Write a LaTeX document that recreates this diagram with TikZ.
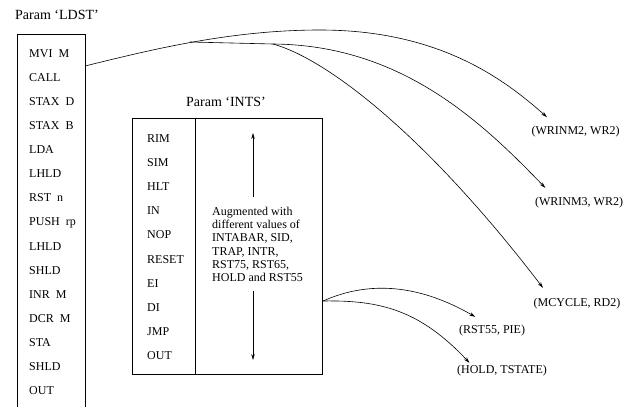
\documentclass[tikz,border=0pt]{standalone}
\usepackage{fontspec}
\setmainfont{Liberation Serif}
\usepackage{tikz}
\usetikzlibrary{arrows.meta,positioning,calc}
\tikzset{
  item/.style={anchor=base west,inner sep=0pt,font=\fontsize{12}{13}\selectfont},
  title/.style={anchor=base,inner sep=0pt,font=\fontsize{14}{16}\selectfont},
  pair/.style={inner sep=0pt,font=\fontsize{12}{13}\selectfont},
  note/.style={anchor=north west,inner sep=0pt,align=left,font=\fontsize{12}{13.2}\selectfont},
  listbox/.style={draw,line width=0.9pt,inner sep=0pt},
  wire/.style={line width=0.6pt},
  arrow/.style={-{Stealth[length=6pt,width=3.5pt]},line width=0.6pt}
}
\begin{document}
\begin{tikzpicture}[x=1pt,y=-1pt]
  \useasboundingbox (0,0) rectangle (626,407);
  % LDST list, open at the bottom
  \node[title] (ldsttitle) at (57,19.5) {Param ‘LDST’};
  \draw[listbox] (17,407) |- (85,34) -- (85,407);
  \foreach \txt [count=\i] in {MVI\ \ M,CALL,STAX\ \ D,STAX\ \ B,LDA,LHLD,RST\ \ n,PUSH\ \ rp,LHLD,SHLD,INR\ \ M,DCR\ \ M,STA,SHLD,OUT}
    \node[item] (l\i) at (29,{57+24.14*(\i-1)}) {\txt};
  \coordinate (ldstout) at (85,66);

  % INTS list
  \node[title] (intstitle) at (226,106.5) {Param ‘INTS’};
  \node[listbox,minimum width=190pt,minimum height=256pt] (ints) at (227,246) {};
  \draw[listbox] ([xshift=64pt]ints.north west) coordinate (divtop) -- (divtop |- ints.south);
  \foreach \txt [count=\i] in {RIM,SIM,HLT,IN,NOP,RESET,EI,DI,JMP,OUT}
    \node[item] (n\i) at (147,{142+24.2*(\i-1)}) {\txt};
  \node[note] (aug) at (212,207) {Augmented with\\different values of\\INTABAR, SID,\\TRAP, INTR,\\RST75, RST65,\\HOLD and RST55};
  \coordinate (uptip) at (253,133);
  \coordinate (downtip) at (253,360);
  \draw[arrow] ([yshift=10pt]aug.north -| uptip) -- (uptip);
  \draw[arrow] ([yshift=-9pt]aug.south -| downtip) -- (downtip);
  \coordinate (intsout) at (323,301);

  % targets
  \node[pair] (wrinm2) at (575.5,132) {(WRINM2, WR2)};
  \node[pair] (wrinm3) at (579,203) {(WRINM3, WR2)};
  \node[pair] (mcycle) at (577,304) {(MCYCLE, RD2)};
  \node[pair] (rst55) at (492,331) {(RST55, PIE)};
  \node[pair] (hold) at (502,371) {(HOLD, TSTATE)};

  % connectors
  \coordinate (forka) at (190,42);
  \coordinate (forkb) at (273,44);
  \draw[arrow] (ldstout) .. controls (150,50) and (230,30) .. (320,30)
    .. controls (440,30) and (505,80) .. ([xshift=15.7pt,yshift=9.2pt]wrinm2.north west);
  \draw[wire] (forka) -- (forkb);
  \draw[arrow] (forkb) .. controls (400,45) and (480,120) .. ([xshift=10.5pt,yshift=9.5pt]wrinm3.north west);
  \draw[arrow] (forkb) .. controls (330,60) and (430,140) .. ([xshift=9.5pt,yshift=10.5pt]mcycle.north west);
  \draw[arrow] (intsout) .. controls (370,280) and (420,285) .. ([xshift=16.5pt,yshift=8.5pt]rst55.north west);
  \draw[arrow] (intsout) .. controls (380,300) and (420,310) .. ([xshift=12.5pt,yshift=2.5pt]hold.north west);
\end{tikzpicture}
\end{document}
